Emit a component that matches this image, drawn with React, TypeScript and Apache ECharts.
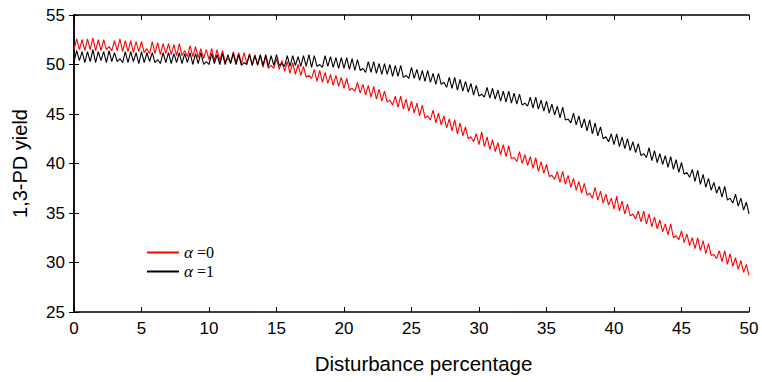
import React, { useEffect, useRef } from "react";
import * as echarts from "echarts";

// x positions: 0, 0.2, ..., 50 (251 points); one row per unit of x
const STEP = 0.2;

const redValues: number[] = [
  51.5, 52.6, 51.5, 52.5, 51.4, // 0
  52.6, 51.5, 52.7, 51.4, 52.5, // 1
  51.4, 52.5, 51.5, 51.8, 51.4, // 2
  52.4, 51.4, 52.6, 51.3, 52.4, // 3
  51.3, 52.4, 51.2, 52.3, 51.3, // 4
  52.3, 51.2, 51.6, 51.1, 52.3, // 5
  51.1, 52.2, 51.0, 52.1, 51.1, // 6
  52.1, 51.0, 52.0, 50.9, 52.1, // 7
  50.9, 51.4, 50.8, 51.9, 50.8, // 8
  51.8, 50.7, 51.6, 50.6, 51.5, // 9
  50.5, 51.6, 50.4, 51.5, 50.4, // 10
  51.4, 50.3, 50.6, 50.2, 51.3, // 11
  50.2, 51.2, 50.1, 51.2, 50.1, // 12
  51.1, 50.0, 51.0, 49.9, 50.9, // 13
  49.7, 50.8, 49.6, 49.9, 49.6, // 14
  50.6, 49.5, 50.4, 49.3, 50.3, // 15
  49.1, 50.2, 49.0, 50.0, 48.9, // 16
  49.8, 48.7, 48.9, 48.6, 49.5, // 17
  48.3, 49.4, 48.2, 49.2, 48.1, // 18
  49.0, 47.9, 48.9, 47.8, 48.7, // 19
  47.6, 48.6, 47.4, 47.6, 47.3, // 20
  48.2, 47.1, 48.0, 46.9, 47.9, // 21
  46.7, 47.8, 46.5, 47.5, 46.3, // 22
  47.3, 46.2, 46.4, 45.9, 46.8, // 23
  45.7, 46.8, 45.5, 46.5, 45.3, // 24
  46.3, 45.1, 46.1, 44.8, 45.9, // 25
  44.6, 44.8, 44.4, 45.4, 44.1, // 26
  45.1, 43.9, 44.8, 43.6, 44.5, // 27
  43.3, 44.4, 43.0, 44.1, 42.8, // 28
  43.7, 42.5, 42.7, 42.2, 43.0, // 29
  41.9, 43.2, 41.7, 42.7, 41.4, // 30
  42.4, 41.2, 42.1, 40.9, 41.9, // 31
  40.7, 41.8, 40.5, 40.6, 40.2, // 32
  41.2, 40.0, 40.9, 39.8, 40.7, // 33
  39.5, 40.6, 39.2, 40.2, 39.0, // 34
  39.9, 38.7, 38.8, 38.4, 39.2, // 35
  38.1, 39.2, 37.9, 38.8, 37.6, // 36
  38.5, 37.3, 38.2, 37.0, 38.0, // 37
  36.8, 37.0, 36.5, 37.6, 36.3, // 38
  37.2, 36.0, 36.9, 35.8, 36.5, // 39
  35.4, 36.7, 35.2, 36.2, 34.9, // 40
  35.9, 34.7, 34.9, 34.4, 35.2, // 41
  34.1, 35.2, 33.9, 34.9, 33.6, // 42
  34.6, 33.4, 34.3, 33.1, 33.9, // 43
  32.8, 33.9, 32.5, 32.7, 32.3, // 44
  33.2, 32.0, 32.9, 31.7, 32.5, // 45
  31.4, 32.5, 31.2, 32.2, 30.9, // 46
  31.9, 30.7, 30.8, 30.4, 31.2, // 47
  30.1, 31.2, 29.8, 30.9, 29.6, // 48
  30.5, 29.3, 30.2, 29.0, 29.8, // 49
  28.7, // 50
];

const blackValues: number[] = [
  50.3, 51.4, 50.4, 51.3, 50.2, // 0
  51.3, 50.3, 51.5, 50.2, 51.3, // 1
  50.4, 51.3, 50.2, 51.4, 50.3, // 2
  51.2, 50.3, 50.6, 50.2, 51.3, // 3
  50.2, 51.3, 50.3, 51.2, 50.1, // 4
  51.3, 50.2, 51.2, 50.3, 51.2, // 5
  50.2, 50.5, 50.1, 51.2, 50.2, // 6
  51.2, 50.1, 51.1, 50.2, 51.2, // 7
  50.1, 51.1, 50.2, 51.2, 50.0, // 8
  51.1, 50.1, 51.2, 50.0, 50.3, // 9
  50.0, 51.1, 50.1, 51.0, 50.0, // 10
  51.1, 50.0, 51.0, 50.1, 51.1, // 11
  50.0, 51.0, 49.9, 50.2, 50.0, // 12
  51.0, 49.9, 50.9, 50.0, 51.0, // 13
  49.9, 51.0, 49.8, 50.9, 49.9, // 14
  51.0, 49.9, 50.1, 49.8, 50.9, // 15
  49.8, 50.9, 49.9, 50.8, 49.8, // 16
  50.9, 49.8, 51.0, 49.7, 50.9, // 17
  49.8, 50.0, 49.7, 50.9, 49.8, // 18
  50.8, 49.7, 50.7, 49.6, 50.7, // 19
  49.6, 50.7, 49.5, 50.6, 49.4, // 20
  50.5, 49.4, 49.6, 49.2, 50.3, // 21
  49.2, 50.3, 49.1, 50.1, 49.0, // 22
  50.1, 49.0, 50.0, 48.8, 49.9, // 23
  48.8, 49.9, 48.7, 48.9, 48.6, // 24
  49.7, 48.6, 49.5, 48.4, 49.4, // 25
  48.3, 49.4, 48.2, 49.1, 48.0, // 26
  49.1, 48.0, 48.2, 47.7, 48.7, // 27
  47.6, 48.7, 47.4, 48.5, 47.3, // 28
  48.3, 47.2, 48.1, 46.9, 47.9, // 29
  46.8, 47.0, 46.7, 47.7, 46.6, // 30
  47.6, 46.5, 47.4, 46.3, 47.3, // 31
  46.2, 47.3, 46.1, 47.1, 46.0, // 32
  47.0, 45.9, 46.1, 45.8, 46.7, // 33
  45.6, 46.7, 45.5, 46.4, 45.3, // 34
  46.3, 45.1, 46.0, 44.9, 45.8, // 35
  44.6, 45.7, 44.4, 44.5, 44.1, // 36
  45.1, 43.9, 44.8, 43.6, 44.5, // 37
  43.3, 44.4, 43.0, 44.1, 42.8, // 38
  43.7, 42.5, 42.7, 42.2, 43.0, // 39
  41.9, 43.0, 41.7, 42.7, 41.5, // 40
  42.5, 41.3, 42.2, 41.1, 42.0, // 41
  40.8, 41.0, 40.6, 41.6, 40.3, // 42
  41.3, 40.1, 41.0, 39.9, 40.8, // 43
  39.6, 40.7, 39.4, 40.4, 39.1, // 44
  40.1, 38.9, 39.1, 38.6, 39.4, // 45
  38.2, 39.3, 37.9, 38.9, 37.6, // 46
  38.5, 37.3, 38.1, 37.0, 37.7, // 47
  36.6, 37.7, 36.3, 36.5, 36.0, // 48
  36.9, 35.7, 36.5, 35.3, 36.1, // 49
  34.9, // 50
];

const seriesNames = ["α =0", "α =1"];
const seriesColors = ["#ff0000", "#000000"];

const xTicks = [0, 5, 10, 15, 20, 25, 30, 35, 40, 45, 50];
const yTicks = [25, 30, 35, 40, 45, 50, 55];

const toPairs = (vals: number[]) =>
  vals.map((v, i) => [Math.round(i * STEP * 10) / 10, v]);

export default function App() {
  const ref = useRef<HTMLDivElement>(null);

  useEffect(() => {
    if (!ref.current) return;
    const chart = echarts.init(ref.current, null, { renderer: "svg" });
    const font = "'Liberation Sans', Arial, Helvetica, sans-serif";
    const serif = "'Liberation Serif', 'Times New Roman', serif";
    const axisLine = { show: true, lineStyle: { color: "#000", width: 1.5 } };
    const axisTick = { show: true, inside: true, length: 5, lineStyle: { color: "#000", width: 1 } };

    chart.setOption({
      animation: false,
      backgroundColor: "#fff",
      grid: { left: 74, right: 13, top: 15, bottom: 70, containLabel: false },
      legend: {
        orient: "vertical",
        left: 142,
        top: 239,
        itemWidth: 32,
        itemHeight: 2,
        itemGap: 2,
        icon: "rect",
        data: seriesNames,
        formatter: (name: string) => name.replace("α", "{a|α}"),
        textStyle: {
          fontFamily: serif,
          fontSize: 16,
          lineHeight: 16,
          color: "#000",
          rich: {
            a: {
              fontFamily: serif,
              fontStyle: "italic",
              fontSize: 17,
              lineHeight: 16,
              color: "#000",
            },
          },
        },
      },
      xAxis: [
        {
          type: "value",
          min: xTicks[0],
          max: xTicks[xTicks.length - 1],
          interval: 5,
          name: "Disturbance percentage",
          nameLocation: "middle",
          nameGap: 41,
          nameTextStyle: {
            fontFamily: font,
            fontSize: 20.5,
            color: "#000",
            padding: [0, 0, 0, 24],
          },
          axisLine,
          axisTick,
          axisLabel: { fontFamily: font, fontSize: 17, color: "#000", margin: 8 },
          splitLine: { show: false },
        },
        {
          type: "value",
          position: "top",
          min: xTicks[0],
          max: xTicks[xTicks.length - 1],
          interval: 5,
          axisLine,
          axisTick,
          axisLabel: { show: false },
          splitLine: { show: false },
        },
      ],
      yAxis: [
        {
          type: "value",
          min: yTicks[0],
          max: yTicks[yTicks.length - 1],
          interval: 5,
          name: "1,3-PD yield",
          nameLocation: "middle",
          nameGap: 44,
          nameTextStyle: { fontFamily: font, fontSize: 20, color: "#000" },
          axisLine,
          axisTick,
          axisLabel: { fontFamily: font, fontSize: 17, color: "#000", margin: 9 },
          splitLine: { show: false },
        },
        {
          type: "value",
          position: "right",
          min: yTicks[0],
          max: yTicks[yTicks.length - 1],
          interval: 5,
          axisLine,
          axisTick,
          axisLabel: { show: false },
          splitLine: { show: false },
        },
      ],
      series: [redValues, blackValues].map((vals, i) => ({
        name: seriesNames[i],
        type: "line",
        data: toPairs(vals),
        showSymbol: false,
        symbol: "none",
        color: seriesColors[i],
        lineStyle: { color: seriesColors[i], width: 1.1 },
        z: i === 0 ? 2 : 3,
      })),
    });

    return () => chart.dispose();
  }, []);

  return (
    <div
      ref={ref}
      style={{ position: "absolute", left: 0, top: 0, width: 762, height: 382 }}
    />
  );
}
